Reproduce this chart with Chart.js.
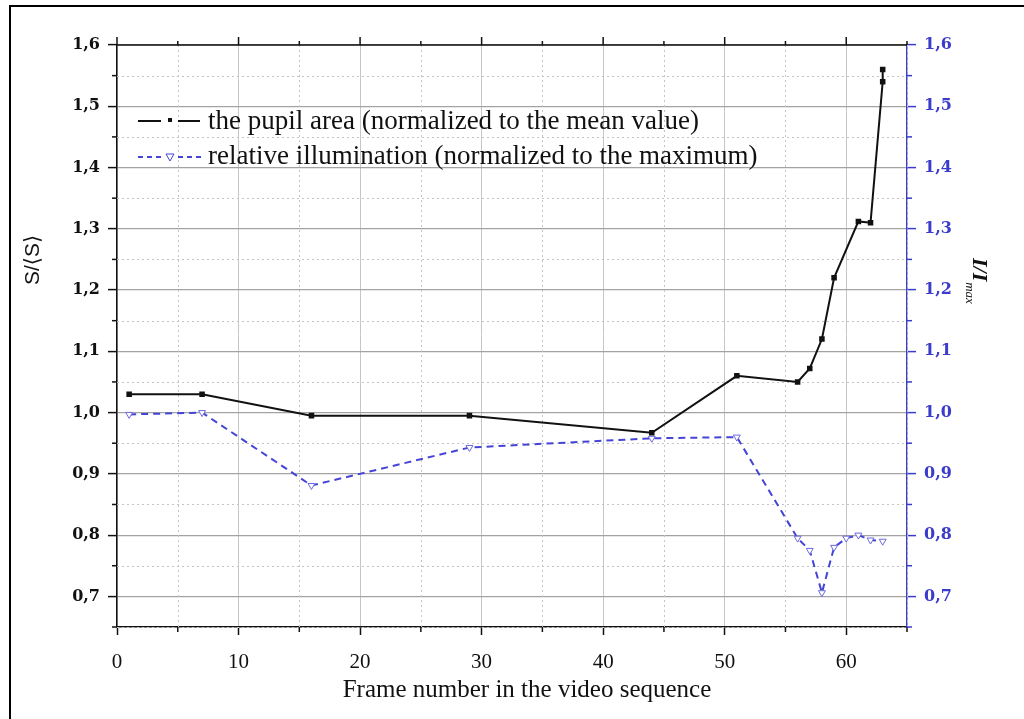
<!DOCTYPE html>
<html>
<head>
<meta charset="utf-8">
<script src="https://cdn.jsdelivr.net/npm/chart.js@4.4.0/dist/chart.umd.min.js"></script>
<style>
  html, body { margin: 0; padding: 0; background: #fff; }
  #wrap { position: relative; width: 1024px; height: 719px; }
  #frame { position: absolute; left: 9px; top: 5px; right: 0; bottom: 0;
           border-left: 2px solid #000; border-top: 2px solid #000; pointer-events: none; }
</style>
</head>
<body>
<div id="wrap">
  <canvas id="chart" width="1024" height="719"></canvas>
  <div id="frame"></div>
</div>
<script>
// data
const pupilFrames = [1, 7, 16, 29, 44, 51, 56, 57, 58, 59, 61, 62, 63, 63];
const pupilArea = [1.03, 1.03, 0.995, 0.995, 0.967, 1.06, 1.05, 1.072, 1.12, 1.22, 1.312, 1.31, 1.54, 1.56];

const illumFrames = [1, 7, 16, 29, 44, 51, 56, 57, 58, 59, 60, 61, 62, 63];
const illumination = [0.997, 1.0, 0.881, 0.943, 0.958, 0.96, 0.795, 0.775, 0.706, 0.78, 0.795, 0.80, 0.792, 0.79];

const xTicks = [0, 10, 20, 30, 40, 50, 60];
const yTicks = [0.7, 0.8, 0.9, 1.0, 1.1, 1.2, 1.3, 1.4, 1.5, 1.6];

const pupilLabel = 'the pupil area (normalized to the mean value)';
const illumLabel = 'relative illumination (normalized to the maximum)';
const xTitle = 'Frame number in the video sequence';

const black = '#111111';
const blue = '#4444d6';
const blueAxis = '#3c3ccc';
const serif = '"Liberation Serif", "Times New Roman", serif';

const fmt = v => v.toFixed(1).replace('.', ',');
const keepTicks = list => scale => {
  scale.ticks = list.map(v => ({ value: v }));
};

function yScale(color, pos) {
  return {
    type: 'linear',
    position: pos,
    min: 0.65,
    max: 1.6,
    afterBuildTicks: keepTicks(yTicks),
    afterFit: s => { s.width = 117; },
    ticks: {
      color: color,
      font: { family: '"DejaVu Serif", serif', size: 16, weight: 'bold' },
      padding: 8,
      callback: v => fmt(v)
    },
    grid: {
      color: '#a3a3a3',
      lineWidth: 1.2,
      drawOnChartArea: pos === 'left',
      tickColor: color,
      tickLength: 9,
      tickWidth: 1.5
    },
    border: { color: color, width: 1.5 }
  };
}

// dotted minor grid, minor ticks, top frame line, legend and axis titles
const frameAndMinor = {
  id: 'frameAndMinor',
  beforeDatasetsDraw(chart) {
    const { ctx, chartArea: a, scales: { x, y } } = chart;
    ctx.save();
    ctx.strokeStyle = '#c4c4c4';
    ctx.lineWidth = 1;
    ctx.setLineDash([2, 3]);
    for (const v of yTicks) {
      const py = Math.round(y.getPixelForValue(v - 0.05)) + 0.5;
      ctx.beginPath(); ctx.moveTo(a.left, py); ctx.lineTo(a.right, py); ctx.stroke();
    }
    for (const v of xTicks) {
      const px = Math.round(x.getPixelForValue(v + 5)) + 0.5;
      ctx.beginPath(); ctx.moveTo(px, a.top); ctx.lineTo(px, a.bottom); ctx.stroke();
    }
    ctx.restore();
  },
  afterDraw(chart) {
    const { ctx, chartArea: a, scales: { x, y } } = chart;
    ctx.save();
    ctx.lineWidth = 1.5;
    // top frame
    ctx.strokeStyle = black;
    ctx.beginPath(); ctx.moveTo(a.left, a.top); ctx.lineTo(a.right, a.top); ctx.stroke();
    for (const v of xTicks) {
      const px = x.getPixelForValue(v);
      ctx.beginPath(); ctx.moveTo(px, a.top - 8); ctx.lineTo(px, a.top); ctx.stroke();
      const pm = x.getPixelForValue(v + 5);
      ctx.beginPath(); ctx.moveTo(pm, a.top - 4); ctx.lineTo(pm, a.top); ctx.stroke();
      ctx.beginPath(); ctx.moveTo(pm, a.bottom); ctx.lineTo(pm, a.bottom + 5); ctx.stroke();
    }
    for (const v of yTicks) {
      const pm = y.getPixelForValue(v - 0.05);
      ctx.strokeStyle = black;
      ctx.beginPath(); ctx.moveTo(a.left - 5, pm); ctx.lineTo(a.left, pm); ctx.stroke();
      ctx.strokeStyle = blueAxis;
      ctx.beginPath(); ctx.moveTo(a.right, pm); ctx.lineTo(a.right + 5, pm); ctx.stroke();
    }

    // legend
    ctx.fillStyle = black;
    ctx.font = '27px ' + serif;
    ctx.textBaseline = 'middle';
    ctx.fillText(pupilLabel, 208, 122);
    ctx.fillText(illumLabel, 208, 157);
    ctx.strokeStyle = black;
    ctx.lineWidth = 2;
    ctx.beginPath(); ctx.moveTo(138, 121); ctx.lineTo(161, 121); ctx.moveTo(178, 121); ctx.lineTo(200, 121); ctx.stroke();
    ctx.fillRect(168, 118, 4, 4);
    ctx.strokeStyle = blue;
    ctx.setLineDash([5, 4]);
    ctx.beginPath(); ctx.moveTo(138, 157); ctx.lineTo(163, 157); ctx.moveTo(178, 157); ctx.lineTo(203, 157); ctx.stroke();
    ctx.setLineDash([]);
    ctx.lineWidth = 1;
    ctx.beginPath(); ctx.moveTo(166, 154); ctx.lineTo(174, 154); ctx.lineTo(170, 161); ctx.closePath(); ctx.stroke();

    // x title
    ctx.font = '25px ' + serif;
    ctx.textAlign = 'center';
    ctx.fillText(xTitle, 527, 690);

    // y titles
    ctx.save();
    ctx.translate(33, 260);
    ctx.rotate(-Math.PI / 2);
    ctx.textAlign = 'center';
    ctx.font = '21px "Liberation Sans", "DejaVu Sans", sans-serif';
    ctx.fillText('S/\u27E8S\u27E9', 0, 0);
    ctx.restore();

    ctx.save();
    ctx.translate(973, 258);
    ctx.rotate(Math.PI / 2);
    ctx.textAlign = 'left';
    ctx.textBaseline = 'alphabetic';
    ctx.font = 'italic bold 22px ' + serif;
    ctx.fillText('I/I', 0, 0);
    const w = ctx.measureText('I/I').width;
    ctx.font = 'italic 13px ' + serif;
    ctx.fillText('max', w + 1, 7);
    ctx.restore();
    ctx.restore();
  }
};

new Chart(document.getElementById('chart'), {
  type: 'line',
  data: {
    datasets: [
      {
        label: pupilLabel,
        data: pupilFrames.map((f, i) => ({ x: f, y: pupilArea[i] })),
        yAxisID: 'y',
        borderColor: black,
        borderWidth: 2,
        pointStyle: 'rect',
        pointRadius: 2.5,
        pointBackgroundColor: black,
        pointBorderColor: black,
        tension: 0
      },
      {
        label: illumLabel,
        data: illumFrames.map((f, i) => ({ x: f, y: illumination[i] })),
        yAxisID: 'y2',
        borderColor: blue,
        borderWidth: 2,
        borderDash: [7, 5],
        pointStyle: 'triangle',
        pointRotation: 180,
        pointRadius: 4,
        pointBackgroundColor: '#ffffff',
        pointBorderColor: '#6a6ae0',
        pointBorderWidth: 1,
        tension: 0
      }
    ]
  },
  options: {
    responsive: false,
    animation: false,
    layout: { padding: { top: 45, left: 0, right: 0, bottom: 0 } },
    plugins: {
      legend: { display: false },
      tooltip: { enabled: false }
    },
    scales: {
      x: {
        type: 'linear',
        min: 0,
        max: 65,
        afterBuildTicks: keepTicks(xTicks),
        afterFit: s => { s.height = 92; },
        ticks: {
          color: black,
          font: { family: serif, size: 21 },
          padding: 15,
          maxRotation: 0
        },
        grid: {
          color: '#c6c6c6',
          lineWidth: 1,
          tickColor: black,
          tickLength: 8,
          tickWidth: 1.5
        },
        border: { color: black, width: 1.5 }
      },
      y: yScale(black, 'left'),
      y2: yScale(blueAxis, 'right')
    }
  },
  plugins: [frameAndMinor]
});
</script>
</body>
</html>
